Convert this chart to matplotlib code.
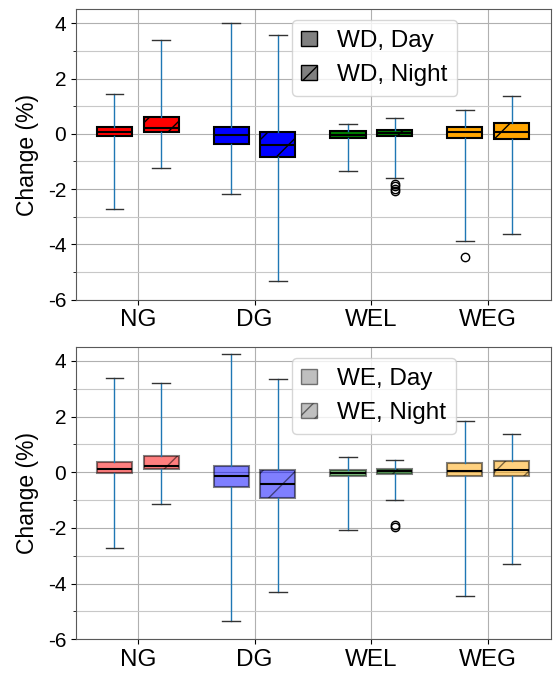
import matplotlib.pyplot as plt
from matplotlib.patches import Patch
from matplotlib.ticker import MultipleLocator

plt.rcParams['font.family'] = ['Liberation Sans', 'DejaVu Sans']
plt.rcParams['axes.unicode_minus'] = False

categories = ['NG', 'DG', 'WEL', 'WEG']
colors = ['red', 'blue', 'green', 'orange']

# box stats: (whislo, q1, med, q3, whishi, fliers)
wd_day = [
    (-2.73, -0.09, 0.08, 0.24, 1.45, []),
    (-2.17, -0.37, -0.04, 0.24, 4.00, []),
    (-1.36, -0.15, -0.05, 0.10, 0.37, []),
    (-3.86, -0.15, 0.05, 0.26, 0.87, [-4.44]),
]
wd_night = [
    (-1.24, 0.06, 0.22, 0.61, 3.38, []),
    (-5.33, -0.82, -0.39, 0.08, 3.57, []),
    (-1.58, -0.07, 0.02, 0.13, 0.56, [-1.80, -1.90, -2.00, -2.08]),
    (-3.62, -0.18, 0.06, 0.40, 1.38, []),
]
we_day = [
    (-2.72, -0.04, 0.10, 0.36, 3.39, []),
    (-5.33, -0.54, -0.15, 0.21, 4.23, []),
    (-2.07, -0.14, -0.04, 0.09, 0.55, []),
    (-4.43, -0.14, 0.04, 0.32, 1.84, []),
]
we_night = [
    (-1.14, 0.11, 0.24, 0.60, 3.21, []),
    (-4.31, -0.91, -0.44, 0.07, 3.35, []),
    (-0.99, -0.05, 0.04, 0.11, 0.43, [-1.90, -1.97]),
    (-3.31, -0.13, 0.09, 0.39, 1.39, []),
]


def to_stats(rows):
    return [dict(whislo=r[0], q1=r[1], med=r[2], q3=r[3], whishi=r[4], fliers=r[5])
            for r in rows]


def draw_panel(ax, day, night, alpha, labels):
    for rows, offset, hatch in [(day, -0.2, None), (night, 0.2, '/')]:
        pos = [i + 1 + offset for i in range(len(categories))]
        bp = ax.bxp(to_stats(rows), positions=pos, widths=0.3, patch_artist=True,
                    manage_ticks=False,
                    boxprops=dict(linewidth=1.5, edgecolor='k'),
                    medianprops=dict(color='k', linewidth=1.5),
                    whiskerprops=dict(color='#1f77b4', linewidth=1),
                    capprops=dict(color='0.2', linewidth=1),
                    flierprops=dict(marker='o', markerfacecolor='none',
                                    markeredgecolor='k', markersize=6))
        for box, c in zip(bp['boxes'], colors):
            box.set_facecolor(c)
            box.set_alpha(alpha)
            if hatch:
                box.set_hatch(hatch)

    ax.set_xticks(range(1, 5))
    ax.set_xticklabels(categories, fontsize=17.5)
    ax.set_xlim(0.47, 4.54)
    ax.set_ylim(-6, 4.5)
    ax.yaxis.set_major_locator(MultipleLocator(2))
    ax.yaxis.set_minor_locator(MultipleLocator(1))
    ax.tick_params(axis='y', labelsize=15)
    ax.set_ylabel('Change (%)', fontsize=16.5, labelpad=6)
    ax.set_axisbelow(True)
    ax.grid(True, which='major', color='#b0b0b0', linewidth=0.8)
    ax.grid(True, which='minor', axis='y', color='#c8c8c8', linewidth=0.8)
    for s in ax.spines.values():
        s.set_color('0.35')

    # small legend squares: denser hatch so one stroke shows up
    handles = [Patch(facecolor='gray', edgecolor='k', alpha=alpha, label=labels[0]),
               Patch(facecolor='gray', edgecolor='k', alpha=alpha, hatch='//', label=labels[1])]
    ax.legend(handles=handles, loc='upper left', bbox_to_anchor=(0.454, 0.962),
              borderaxespad=0, fontsize=17.5, handlelength=0.66, handleheight=0.55,
              handletextpad=0.82)


fig = plt.figure(figsize=(5.54, 6.75), dpi=100)
ax1 = fig.add_axes([0.137, 0.556, 0.858, 0.430])
ax2 = fig.add_axes([0.137, 0.053, 0.858, 0.433])

draw_panel(ax1, wd_day, wd_night, 1.0, ['WD, Day', 'WD, Night'])
draw_panel(ax2, we_day, we_night, 0.5, ['WE, Day', 'WE, Night'])

fig.savefig('out.png', dpi=100)
